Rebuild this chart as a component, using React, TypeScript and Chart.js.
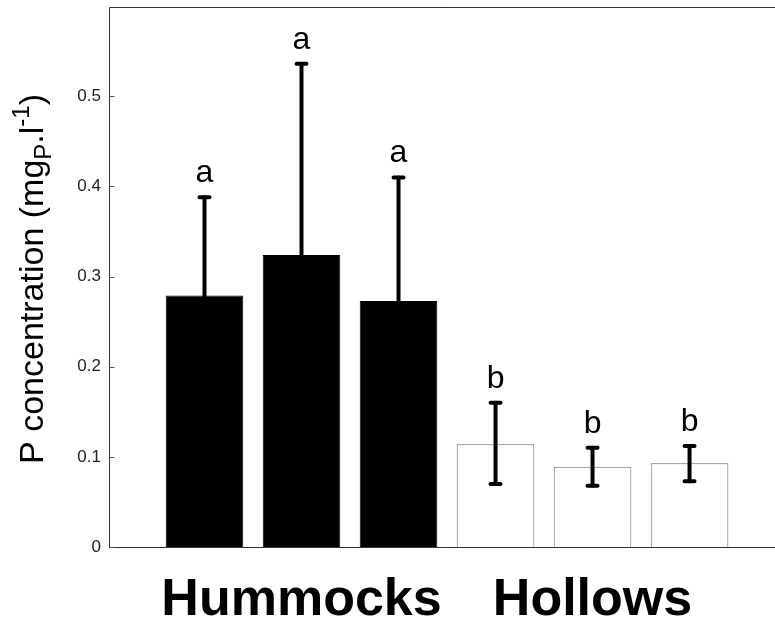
import React, { useEffect, useRef } from "react";
import { Chart, registerables } from "chart.js";

Chart.register(...registerables);

const positions = [1, 2, 3, 4, 5, 6];
const means = [0.279, 0.324, 0.273, 0.114, 0.089, 0.093];
const upper = [0.388, 0.536, 0.41, 0.16, 0.11, 0.112];
const lower = [0.17, 0.112, 0.136, 0.07, 0.068, 0.073];
const letters = ["a", "a", "a", "b", "b", "b"];
const groupLabels = ["Hummocks", "Hollows"];
const groupPositions = [2, 5];
const yTicks = [0, 0.1, 0.2, 0.3, 0.4, 0.5];
const fills = ["#000000", "#000000", "#000000", "#ffffff", "#ffffff", "#ffffff"];

const FONT = "'Liberation Sans', Arial, Helvetica, sans-serif";

const decorPlugin = {
  id: "decor",
  afterDatasetsDraw(chart: any) {
    const { ctx, chartArea, scales } = chart;
    const xs = scales.x;
    const ys = scales.y;
    ctx.save();
    // error bars
    ctx.strokeStyle = "#000";
    ctx.lineWidth = 4;
    ctx.lineCap = "round";
    positions.forEach((p, i) => {
      const x = xs.getPixelForValue(p);
      const yu = ys.getPixelForValue(upper[i]);
      const yl = ys.getPixelForValue(lower[i]);
      ctx.beginPath();
      ctx.moveTo(x, yu);
      ctx.lineTo(x, yl);
      ctx.stroke();
      ctx.beginPath();
      ctx.moveTo(x - 5, yu);
      ctx.lineTo(x + 5, yu);
      ctx.moveTo(x - 5, yl);
      ctx.lineTo(x + 5, yl);
      ctx.stroke();
      ctx.fillStyle = "#000";
      ctx.font = `32px ${FONT}`;
      ctx.textAlign = "center";
      ctx.textBaseline = "alphabetic";
      ctx.fillText(letters[i], x, yu - 15);
    });
    // axes
    ctx.strokeStyle = "#333";
    ctx.lineWidth = 1;
    ctx.lineCap = "butt";
    const L = Math.round(chartArea.left) + 0.5;
    const T = Math.round(chartArea.top) + 0.5;
    const B = Math.round(chartArea.bottom) + 0.5;
    const R = chartArea.right;
    ctx.beginPath();
    ctx.moveTo(L, T);
    ctx.lineTo(R, T);
    ctx.moveTo(L, T);
    ctx.lineTo(L, B);
    ctx.lineTo(R, B);
    ctx.stroke();
    ctx.strokeStyle = "#555";
    yTicks.forEach((v) => {
      const y = Math.round(ys.getPixelForValue(v)) + 0.5;
      ctx.beginPath();
      ctx.moveTo(L, y);
      ctx.lineTo(L + 5, y);
      ctx.stroke();
    });
    // y title with sub/superscript
    const F = 34;
    const small = Math.round(F * 0.7);
    const parts = [
      { t: "P concentration (mg", s: F, dy: 0 },
      { t: "P", s: small, dy: 8 },
      { t: ".l", s: F, dy: 0 },
      { t: "-1", s: small, dy: -14 },
      { t: ")", s: F, dy: 0 },
    ];
    let total = 0;
    parts.forEach((pt) => {
      ctx.font = `${pt.s}px ${FONT}`;
      total += ctx.measureText(pt.t).width;
    });
    ctx.translate(43, 279);
    ctx.rotate(-Math.PI / 2);
    ctx.fillStyle = "#000";
    ctx.textAlign = "left";
    ctx.textBaseline = "alphabetic";
    let cx = -total / 2;
    parts.forEach((pt) => {
      ctx.font = `${pt.s}px ${FONT}`;
      ctx.fillText(pt.t, cx, pt.dy);
      cx += ctx.measureText(pt.t).width;
    });
    ctx.restore();
  },
};

export default function App() {
  const ref = useRef<HTMLCanvasElement | null>(null);
  useEffect(() => {
    if (!ref.current) return;
    const chart = new Chart(ref.current, {
      type: "bar",
      data: {
        datasets: [
          {
            data: positions.map((p, i) => ({ x: p, y: means[i] })),
            backgroundColor: fills,
            borderColor: fills.map((f) => (f === "#000000" ? "#000000" : "#666666")),
            borderWidth: 1,
            barPercentage: 0.8,
            categoryPercentage: 1,
          },
        ],
      },
      options: {
        animation: false,
        responsive: false,
        devicePixelRatio: 1,
        layout: { padding: { top: 7, right: 0, left: 0, bottom: 0 } },
        plugins: { legend: { display: false }, tooltip: { enabled: false } },
        scales: {
          x: {
            type: "linear",
            offset: false,
            min: 0.0155,
            max: 6.881,
            grid: { display: false, drawTicks: false },
            border: { display: false },
            afterBuildTicks: (s: any) => {
              s.ticks = groupPositions.map((v) => ({ value: v }));
            },
            afterFit: (s: any) => {
              s.height = 74;
              s.paddingLeft = 0;
              s.paddingRight = 0;
            },
            ticks: {
              autoSkip: false,
              maxRotation: 0,
              padding: 22,
              color: "#000",
              font: { family: FONT, size: 52, weight: "bold" },
              callback: (v: any) => {
                const idx = groupPositions.indexOf(Number(v));
                return idx >= 0 ? groupLabels[idx] : "";
              },
            },
          },
          y: {
            min: 0,
            max: 0.599,
            grid: { display: false, drawTicks: false },
            border: { display: false },
            afterBuildTicks: (s: any) => {
              s.ticks = yTicks.map((v) => ({ value: v }));
            },
            afterFit: (s: any) => {
              s.width = 109;
              s.paddingTop = 0;
              s.paddingBottom = 0;
            },
            ticks: {
              padding: 8,
              color: "#222",
              font: { family: FONT, size: 17 },
              callback: (v: any) => String(Math.round(Number(v) * 10) / 10),
            },
          },
        },
      },
      plugins: [decorPlugin],
    } as any);
    return () => chart.destroy();
  }, []);
  return (
    <div style={{ position: "fixed", left: 0, top: 0, width: 775, height: 621, overflow: "hidden", background: "#fff" }}>
      <canvas ref={ref} width={775} height={621} style={{ display: "block" }} />
    </div>
  );
}
